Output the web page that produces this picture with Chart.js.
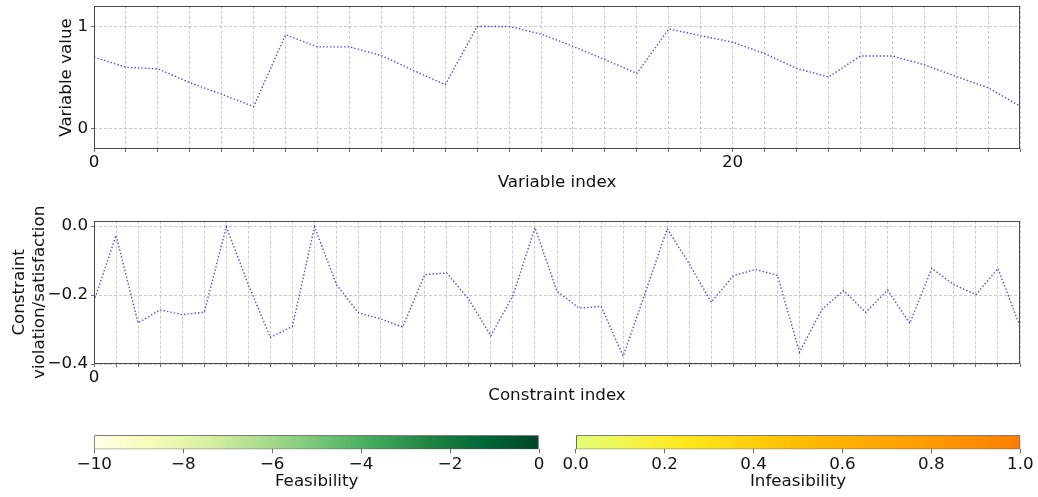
<!DOCTYPE html>
<html>
<head>
<meta charset="utf-8">
<title>Variables and constraints</title>
<script src="https://cdn.jsdelivr.net/npm/chart.js@4.4.1/dist/chart.umd.min.js"></script>
<style>
  html, body { margin: 0; padding: 0; background: #ffffff; }
  #wrap { position: relative; width: 1038px; height: 497px; overflow: hidden; }
  canvas { position: absolute; display: block; }
</style>
</head>
<body>
<div id="wrap">
  <canvas id="vars" width="1038" height="200" style="left:0;top:0;width:1038px;height:200px"></canvas>
  <canvas id="cons" width="1038" height="215" style="left:0;top:200px;width:1038px;height:215px"></canvas>
  <canvas id="feas" width="530" height="72" style="left:54px;top:425px;width:530px;height:72px"></canvas>
  <canvas id="infeas" width="498" height="72" style="left:540px;top:425px;width:498px;height:72px"></canvas>
</div>
<script>
// ---- data ----
const variableIndex = [0, 1, 2, 3, 4, 5, 6, 7, 8, 9, 10, 11, 12, 13, 14, 15, 16, 17, 18, 19,
  20, 21, 22, 23, 24, 25, 26, 27, 28, 29];
const variableValues = [0.70, 0.60, 0.585, 0.45, 0.335, 0.215, 0.92, 0.80, 0.80, 0.715,
  0.57, 0.43, 1.00, 1.00, 0.925, 0.805, 0.675, 0.54, 0.975, 0.91,
  0.845, 0.735, 0.59, 0.505, 0.71, 0.71, 0.625, 0.51, 0.40, 0.22];
const variableValueTicks = [0, 1];

const constraintIndex = [0, 1, 2, 3, 4, 5, 6, 7, 8, 9, 10, 11, 12, 13, 14, 15, 16, 17, 18, 19,
  20, 21, 22, 23, 24, 25, 26, 27, 28, 29, 30, 31, 32, 33, 34, 35, 36, 37, 38, 39, 40, 41, 42];
const constraintValues = [-0.218, -0.027, -0.281, -0.243, -0.257, -0.250, -0.002, -0.170, -0.323, -0.291,
  -0.002, -0.170, -0.252, -0.269, -0.293, -0.141, -0.136, -0.213, -0.318, -0.202,
  -0.005, -0.189, -0.238, -0.233, -0.377, -0.194, -0.008, -0.110, -0.221, -0.144,
  -0.126, -0.143, -0.366, -0.243, -0.187, -0.250, -0.186, -0.282, -0.123, -0.170,
  -0.199, -0.123, -0.291];
const constraintValueTicks = [-0.4, -0.2, 0.0];

const feasibilityTicks = [-10, -8, -6, -4, -2, 0];
const infeasibilityTicks = [0.0, 0.2, 0.4, 0.6, 0.8, 1.0];

// colormap stops (YlGn and Wistia)
const ylGn = ['#ffffe5', '#f7fcb9', '#d9f0a3', '#addd8e', '#78c679', '#41ab5d', '#238443', '#006837', '#004529'];
const wistia = ['#e4ff7a', '#ffe81a', '#ffbd00', '#ffa000', '#fc7f00'];

// ---- styling ----
const AXIS = '#4a4a4a';
const GRID = 'rgba(160,160,160,0.7)';
const LINE = 'rgba(20,20,255,0.78)';
Chart.defaults.font.family = "'DejaVu Sans', sans-serif";
Chart.defaults.font.size = 16.7;
Chart.defaults.color = '#111';

const minus = s => s.replace('-', '\u2212');
const fixed = d => v => minus(Number(v).toFixed(d));
const setTicks = values => scale => { scale.ticks = values.map(v => ({ value: v })); };

// box around the plotting area
const frame = {
  id: 'frame',
  afterDraw(chart) {
    const { ctx, chartArea: a } = chart;
    ctx.save();
    ctx.strokeStyle = AXIS;
    ctx.lineWidth = 1;
    const l = Math.round(a.left) + 0.5, t = Math.round(a.top) + 0.5;
    const r = Math.round(a.right) - 0.5, b = Math.round(a.bottom) - 0.5;
    ctx.strokeRect(l, t, r - l, b - t);
    ctx.restore();
  }
};

function linePanel(id, xs, ys, o) {
  return new Chart(document.getElementById(id), {
    type: 'line',
    data: {
      datasets: [{
        data: xs.map((x, i) => ({ x: x, y: ys[i] })),
        borderColor: LINE,
        borderWidth: 1.4,
        borderDash: [1.4, 2.1],
        pointRadius: 0,
        fill: false,
        tension: 0
      }]
    },
    options: {
      responsive: false,
      animation: false,
      events: [],
      plugins: { legend: { display: false }, tooltip: { enabled: false } },
      layout: { padding: { top: o.top, right: 18, left: 0, bottom: 0 } },
      scales: {
        x: {
          type: 'linear',
          min: xs[0],
          max: xs[xs.length - 1],
          afterBuildTicks: setTicks(xs),
          afterFit: s => { s.height = o.xHeight; s.paddingLeft = 0; s.paddingRight = 0; },
          ticks: {
            autoSkip: false, maxRotation: 0, padding: 1, color: '#111',
            callback: v => (v % o.xMajor === 0 ? String(v) : '')
          },
          grid: { color: GRID, lineWidth: 0.8, tickLength: 3, tickColor: AXIS, tickWidth: 0.8 },
          border: { display: false, dash: [3, 2] },
          title: { display: true, text: o.xTitle, color: '#111', padding: { top: 0, bottom: o.xTitlePad } }
        },
        y: {
          type: 'linear',
          min: o.yMin,
          max: o.yMax,
          afterBuildTicks: setTicks(o.yTicks),
          afterFit: s => { s.width = 94; s.paddingTop = 0; s.paddingBottom = 0; },
          ticks: { padding: 3, color: '#111', callback: o.yFmt },
          grid: { color: GRID, lineWidth: 0.8, tickLength: 3, tickColor: AXIS, tickWidth: 0.8 },
          border: { display: false, dash: [3, 2] },
          title: { display: true, text: o.yTitle, color: '#111', padding: { top: o.yTitlePad, bottom: 0 } }
        }
      }
    },
    plugins: [frame]
  });
}

function gradientFor(chart, stops) {
  const a = chart.chartArea;
  if (!a) return stops[0];
  const g = chart.ctx.createLinearGradient(a.left, 0, a.right, 0);
  stops.forEach((c, i) => g.addColorStop(i / (stops.length - 1), c));
  return g;
}

function colorbar(id, ticks, stops, title, fmt, pad) {
  const lo = ticks[0], hi = ticks[ticks.length - 1];
  return new Chart(document.getElementById(id), {
    type: 'bar',
    data: {
      labels: [title],
      datasets: [{
        data: [[lo, hi]],
        backgroundColor: c => gradientFor(c.chart, stops),
        borderColor: '#555',
        borderWidth: 1,
        borderSkipped: false,
        barPercentage: 1,
        categoryPercentage: 1
      }]
    },
    options: {
      indexAxis: 'y',
      responsive: false,
      animation: false,
      events: [],
      plugins: { legend: { display: false }, tooltip: { enabled: false } },
      layout: { padding: pad },
      scales: {
        y: { display: false },
        x: {
          type: 'linear',
          min: lo,
          max: hi,
          afterBuildTicks: setTicks(ticks),
          afterFit: s => { s.height = 72 - pad.top - 14; },
          ticks: { autoSkip: false, maxRotation: 0, padding: 1, color: '#111', callback: fmt },
          grid: { drawOnChartArea: false, drawTicks: true, tickLength: 4, tickColor: AXIS, tickWidth: 0.8 },
          border: { display: false },
          title: { display: true, text: title, color: '#111', padding: { top: 0, bottom: 5.6 } }
        }
      }
    }
  });
}

linePanel('vars', variableIndex, variableValues, {
  top: 6, xHeight: 51, xMajor: 20, xTitle: 'Variable index', xTitlePad: 7.6,
  yMin: -0.2, yMax: 1.2, yTicks: variableValueTicks, yFmt: v => String(v),
  yTitle: 'Variable value', yTitlePad: 56.4
});

linePanel('cons', constraintIndex, constraintValues, {
  top: 20.7, xHeight: 51, xMajor: 50, xTitle: 'Constraint index', xTitlePad: 9.6,
  yMin: -0.4, yMax: 0.0154, yTicks: constraintValueTicks, yFmt: fixed(1),
  yTitle: ['Constraint', 'violation/satisfaction'], yTitlePad: 9.4
});

colorbar('feas', feasibilityTicks, ylGn, 'Feasibility', fixed(0),
  { left: 40.3, right: 45, top: 10.3, bottom: 0 });
colorbar('infeas', infeasibilityTicks, wistia, 'Infeasibility', fixed(1),
  { left: 35.7, right: 17.7, top: 10.3, bottom: 0 });
</script>
</body>
</html>
